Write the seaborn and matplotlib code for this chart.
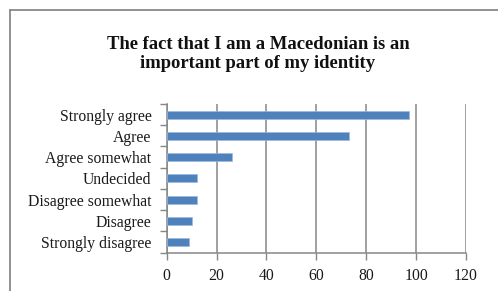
import matplotlib
matplotlib.use("Agg")
import matplotlib.pyplot as plt
from matplotlib.lines import Line2D
from matplotlib.ticker import FixedLocator
import pandas as pd
import seaborn as sns

# ── data ─────────────────────────────────────────────────────────────────────
responses = ["Strongly agree", "Agree", "Agree somewhat", "Undecided",
             "Disagree somewhat", "Disagree", "Strongly disagree"]
counts = [97, 73, 26, 12, 12, 10, 9]
x_ticks = [0, 20, 40, 60, 80, 100, 120]

TITLE = "The fact that I am a Macedonian is an\nimportant part of my identity"
BAR_COLOR = "#4F81BD"
GRID_COLOR = "#868686"

sns.set_theme(style="white")
plt.rcParams["font.family"] = ["Liberation Serif", "DejaVu Serif"]

df = pd.DataFrame({"response": responses, "count": counts})

fig = plt.figure(figsize=(4.98, 2.91), dpi=100)
ax = fig.add_axes([0.3347, 0.1316, 0.6010, 0.5110])

sns.barplot(data=df, x="count", y="response", order=responses,
            color=BAR_COLOR, saturation=1, width=0.38, ax=ax,
            edgecolor="#9DB9DD", linewidth=0.5, zorder=3)

ax.set_xlim(0, 120)
ax.set_ylim(len(responses) - 0.5, -0.5)
ax.set_xticks(x_ticks)
ax.set_xticklabels([str(t) for t in x_ticks], fontsize=11.3, color="#1a1a1a")
ax.set_yticklabels(responses, fontsize=11.3, color="#1a1a1a")
ax.set_xlabel("")
ax.set_ylabel("")

# category boundary ticks on the left axis
ax.yaxis.set_minor_locator(FixedLocator([i - 0.5 for i in range(len(responses) + 1)]))
ax.tick_params(axis="y", which="major", length=0, pad=11)
ax.tick_params(axis="y", which="minor", length=5, width=1, color=GRID_COLOR, left=True)
ax.tick_params(axis="x", which="major", length=5, width=1, color=GRID_COLOR,
               bottom=True, pad=6)

ax.grid(axis="x", color=GRID_COLOR, linewidth=1.1, zorder=0)
ax.grid(axis="y", visible=False)
for side in ["top", "right"]:
    ax.spines[side].set_visible(False)
for side in ["left", "bottom"]:
    ax.spines[side].set_color(GRID_COLOR)
    ax.spines[side].set_linewidth(1.1)

fig.text(0.518, 0.814, TITLE, ha="center", va="center", fontsize=13.4,
         fontweight="bold", linespacing=1.2, color="#111111")

# chart area border (runs off the right and bottom edges)
x0, y0 = 9.5 / 498, 1 - 9.5 / 291
fig.add_artist(Line2D([x0, x0], [0, y0], color="#7f7f7f", lw=1.2))
fig.add_artist(Line2D([x0, 1], [y0, y0], color="#7f7f7f", lw=1.2))

fig.savefig("out.png", dpi=100)
